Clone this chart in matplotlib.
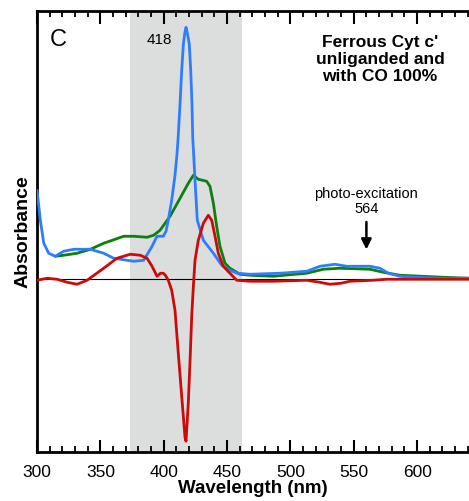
import matplotlib
matplotlib.use("Agg")
import matplotlib.pyplot as plt
from matplotlib.ticker import MultipleLocator

plt.rcParams["font.family"] = ["Liberation Sans", "DejaVu Sans"]

# unliganded / CO-bound / difference spectra (arbitrary absorbance units)
blue_nm = [300, 302.6, 305.3, 309.2, 314.4, 321, 329, 342, 352.6, 360.5, 376.3,
           384.2, 390.8, 394.7, 399.7, 401.8, 403.6, 406.3, 408.9, 410.4, 411.5,
           412.9, 414.2, 415.5, 416.6, 417.6, 418.7, 420.2, 421.3, 422.3, 422.9,
           424.7, 426.5, 431.3, 439.2, 445.8, 452.3, 458, 468.1, 491.8, 512.9,
           523.4, 535.2, 544.4, 562.8, 570.7, 577.3, 586.5, 596.8, 620, 641]
blue_abs = [0.89, 0.59, 0.36, 0.26, 0.23, 0.28, 0.30, 0.30, 0.26, 0.21, 0.18,
            0.19, 0.33, 0.43, 0.43, 0.48, 0.59, 0.79, 1.04, 1.24, 1.44,
            1.76, 2.09, 2.35, 2.46, 2.52, 2.46, 2.35, 2.09, 1.76, 1.42,
            0.99, 0.59, 0.39, 0.26, 0.14, 0.09, 0.06, 0.05, 0.06, 0.08,
            0.13, 0.15, 0.13, 0.13, 0.11, 0.06, 0.03, 0.02, 0.01, 0.01]

green_nm = [314.4, 321, 331.6, 342.1, 352.6, 368.4, 376.3, 386.8, 392, 397.1,
            405, 412.9, 419.4, 423.4, 427.3, 433.9, 436.5, 439.2, 441.8, 444.4,
            448.4, 452.3, 460.2, 468.1, 486.5, 512.9, 526, 539.1, 562.8, 573.3,
            586.5, 620.4, 641]
green_abs = [0.23, 0.24, 0.26, 0.30, 0.36, 0.43, 0.43, 0.42, 0.44, 0.49,
             0.63, 0.81, 0.96, 1.04, 1.00, 0.98, 0.93, 0.76, 0.53, 0.33,
             0.16, 0.11, 0.05, 0.04, 0.03, 0.06, 0.10, 0.11, 0.10, 0.07,
             0.04, 0.02, 0.01]

red_nm = [300, 307.9, 315.8, 323.7, 331.6, 339.5, 352.6, 363.1, 373.6, 381.5,
          386.8, 390.8, 394.7, 397.5, 399.7, 401.3, 403.6, 406.3, 408.9, 411.5,
          414.2, 416.8, 417.6, 419.4, 420.8, 422.1, 423.4, 424.7, 427.3, 431.3,
          435.2, 437.9, 440.5, 443.1, 447, 452.3, 457.6, 468.1, 486.5, 512.9,
          523, 531.3, 540, 547, 565.4, 576, 618, 641]
red_abs = [-0.01, 0.01, 0.0, -0.03, -0.05, -0.01, 0.11, 0.21, 0.25, 0.24,
           0.21, 0.13, 0.03, 0.06, 0.06, 0.04, -0.01, -0.11, -0.31, -0.74,
           -1.17, -1.58, -1.62, -1.24, -0.81, -0.37, -0.07, 0.19, 0.39, 0.56,
           0.64, 0.59, 0.43, 0.26, 0.13, 0.06, -0.01, -0.02, -0.02, -0.01,
           -0.03, -0.05, -0.04, -0.02, -0.01, 0.0, 0.0, 0.0]

band_lo, band_hi = 373, 462
peak_nm = 418
excite_nm = 560

fig = plt.figure(figsize=(4.69, 5.01), dpi=100)
ax = fig.add_axes([0.079, 0.098, 0.921, 0.880])

ax.axvspan(band_lo, band_hi, color="#dcdede", zorder=0, lw=0)
ax.axhline(0, color="black", lw=0.8, zorder=1)
line_kw = dict(lw=2.0, solid_joinstyle="round", solid_capstyle="round")
ax.plot(green_nm, green_abs, color="#0c7f0c", zorder=2, **line_kw)
ax.plot(blue_nm, blue_abs, color="#2d7dff", zorder=3, **line_kw)
ax.plot(red_nm, red_abs, color="#cc0a0a", zorder=4, **line_kw)

ax.set_xlim(300, 641)
ax.set_ylim(-1.727, 2.683)
ax.xaxis.set_major_locator(MultipleLocator(50))
ax.xaxis.set_minor_locator(MultipleLocator(10))
ax.set_xticks([300, 350, 400, 450, 500, 550, 600])
ax.tick_params(axis="x", which="major", direction="in", length=9, width=1.5,
               top=True, labelsize=12.5, pad=9.5)
ax.tick_params(axis="x", which="minor", direction="in", length=4.5, width=1.3,
               top=True)
ax.set_yticks([])
for s in ("left", "bottom", "top"):
    ax.spines[s].set_linewidth(2)
ax.spines["right"].set_visible(False)

ax.set_xlabel("Wavelength (nm)", fontsize=13.5, fontweight="bold", labelpad=0)
ax.set_ylabel("Absorbance", fontsize=14, fontweight="bold", labelpad=4)

ax.text(0.03, 0.935, "C", transform=ax.transAxes, fontsize=17, va="center")
ax.text(396.3, 2.39, str(peak_nm), fontsize=11, ha="center", va="center")
ax.text(570.7, 2.20, "Ferrous Cyt c'\nunliganded and\nwith CO 100%",
        fontsize=12.5, fontweight="bold", ha="center", va="center",
        linespacing=1.15)
ax.text(excite_nm, 0.78, "photo-excitation\n" + str(excite_nm + 4), fontsize=10.5,
        ha="center", va="center", linespacing=1.05)
ax.annotate("", xy=(excite_nm, 0.27), xytext=(excite_nm, 0.60),
            arrowprops=dict(arrowstyle="-|>,head_width=0.3,head_length=0.6",
                            color="black", lw=1.8))

fig.savefig("out.png", dpi=100)
